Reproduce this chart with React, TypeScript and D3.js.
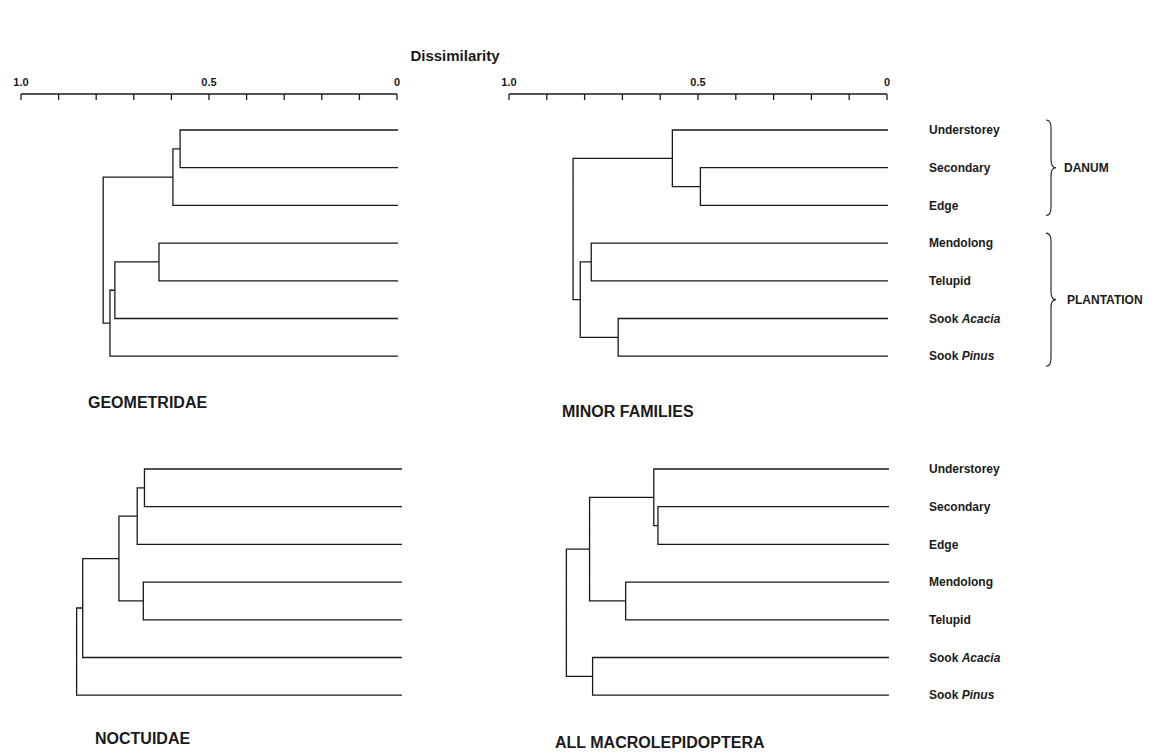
import React from 'react';
import * as d3 from 'd3';

// leaf order is the same in every panel
const sites = ['Understorey', 'Secondary', 'Edge', 'Mendolong', 'Telupid', 'Sook Acacia', 'Sook Pinus'];

// merges: [childA, childB, dissimilarity]; leaves are 0..6, merged nodes get ids 7, 8, ...
const geometridae: [number, number, number][] = [
    [0, 1, 0.578],
    [7, 2, 0.597],
    [3, 4, 0.634],
    [9, 5, 0.751],
    [10, 6, 0.764],
    [8, 11, 0.782],
];

const minorFamilies: [number, number, number][] = [
    [1, 2, 0.495],
    [0, 7, 0.569],
    [3, 4, 0.783],
    [5, 6, 0.712],
    [9, 10, 0.812],
    [8, 11, 0.831],
];

const noctuidae: [number, number, number][] = [
    [0, 1, 0.676],
    [7, 2, 0.695],
    [3, 4, 0.679],
    [8, 9, 0.743],
    [10, 5, 0.838],
    [11, 6, 0.854],
];

const allMacro: [number, number, number][] = [
    [1, 2, 0.608],
    [0, 7, 0.619],
    [3, 4, 0.693],
    [8, 9, 0.788],
    [5, 6, 0.780],
    [10, 11, 0.849],
];

const axisLabels = [1, 0.5, 0];
const axisLabelText = ['1.0', '0.5', '0'];

const groups = [
    { name: 'DANUM', first: 0, last: 2 },
    { name: 'PLANTATION', first: 3, last: 6 },
];

const FONT = "'Liberation Sans', Arial, Helvetica, sans-serif";
const INK = '#1a1a1a';

interface PanelProps {
    merges: [number, number, number][];
    x0: number;
    x1: number;
    yTop: number;
    title: string;
    titleX: number;
    titleY: number;
    showLabels?: boolean;
}

const Dendrogram: React.FC<PanelProps> = ({ merges, x0, x1, yTop, title, titleX, titleY, showLabels }) => {
    const x = d3.scaleLinear().domain([1, 0]).range([x0, x1]);
    const y = d3.scaleLinear().domain([0, sites.length - 1]).range([yTop, yTop + 6 * 37.7]);

    // node positions
    const pos: { x: number; y: number }[] = sites.map((_, i) => ({ x: x(0), y: y(i) }));
    const segs: string[] = [];
    merges.forEach(([a, b, h]) => {
        const nx = x(h);
        const pa = pos[a];
        const pb = pos[b];
        segs.push(`M${pa.x},${pa.y}H${nx}V${pb.y}H${pb.x}`);
        pos.push({ x: nx, y: (pa.y + pb.y) / 2 });
    });

    return (
        <g>
            <path d={segs.join('')} fill="none" stroke={INK} strokeWidth={1.3} />
            {showLabels &&
                sites.map((s, i) => {
                    const parts = s.split(' ');
                    return (
                        <text key={s} x={929} y={y(i)} dy="0.35em" fontSize={12} fontWeight="bold" fontFamily={FONT} fill={INK}>
                            {parts.length > 1 ? (
                                <>
                                    {parts[0] + ' '}
                                    <tspan fontStyle="italic">{parts[1]}</tspan>
                                </>
                            ) : (
                                s
                            )}
                        </text>
                    );
                })}
            <text x={titleX} y={titleY} fontSize={16} fontWeight="bold" fontFamily={FONT} fill={INK}>
                {title}
            </text>
        </g>
    );
};

const Axis: React.FC<{ x0: number; x1: number; y: number }> = ({ x0, x1, y }) => {
    const x = d3.scaleLinear().domain([1, 0]).range([x0, x1]);
    const ticks = x.ticks(10);
    return (
        <g>
            <line x1={x(1)} x2={x(0)} y1={y} y2={y} stroke={INK} strokeWidth={1.3} />
            {ticks.map((t) => (
                <line key={t} x1={x(t)} x2={x(t)} y1={y} y2={y + 6} stroke={INK} strokeWidth={1.3} />
            ))}
            {axisLabels.map((v, i) => (
                <text key={v} x={x(v)} y={y - 8} textAnchor="middle" fontSize={11} fontWeight="bold" fontFamily={FONT} fill={INK}>
                    {axisLabelText[i]}
                </text>
            ))}
        </g>
    );
};

function brace(x0: number, y0: number, y1: number, w: number) {
    const ym = (y0 + y1) / 2;
    const q = 8;
    const xm = x0 + w / 2;
    return `M${x0},${y0}Q${xm},${y0} ${xm},${y0 + q}L${xm},${ym - q}Q${xm},${ym} ${x0 + w},${ym}` +
        `Q${xm},${ym} ${xm},${ym + q}L${xm},${y1 - q}Q${xm},${y1} ${x0},${y1}`;
}

export default function App() {
    const yRow = d3.scaleLinear().domain([0, sites.length - 1]).range([130, 130 + 6 * 37.7]);
    return (
        <svg width={1158} height={753} style={{ position: 'absolute', left: 0, top: 0, background: '#fff' }}>
            <text x={455} y={61} textAnchor="middle" fontSize={15} fontWeight="bold" fontFamily={FONT} fill={INK}>
                Dissimilarity
            </text>
            <Axis x0={21} x1={397} y={94} />
            <Axis x0={509} x1={887} y={94} />

            <Dendrogram merges={geometridae} x0={21} x1={398} yTop={130} title="GEOMETRIDAE" titleX={88} titleY={408} />
            <Dendrogram merges={minorFamilies} x0={509} x1={888} yTop={130} title="MINOR FAMILIES" titleX={562} titleY={417} showLabels />
            <Dendrogram merges={noctuidae} x0={21} x1={402} yTop={469} title="NOCTUIDAE" titleX={95} titleY={744} />
            <Dendrogram merges={allMacro} x0={509} x1={889} yTop={469} title="ALL MACROLEPIDOPTERA" titleX={555} titleY={748} showLabels />

            {groups.map((g) => {
                const y0 = yRow(g.first) - 10;
                const y1 = yRow(g.last) + 10;
                return (
                    <g key={g.name}>
                        <path d={brace(1046, y0, y1, 10)} fill="none" stroke={INK} strokeWidth={1.1} />
                        <text x={g.name === 'DANUM' ? 1064 : 1067} y={(y0 + y1) / 2} dy="0.35em" fontSize={12} fontWeight="bold" fontFamily={FONT} fill={INK}>
                            {g.name}
                        </text>
                    </g>
                );
            })}
        </svg>
    );
}
